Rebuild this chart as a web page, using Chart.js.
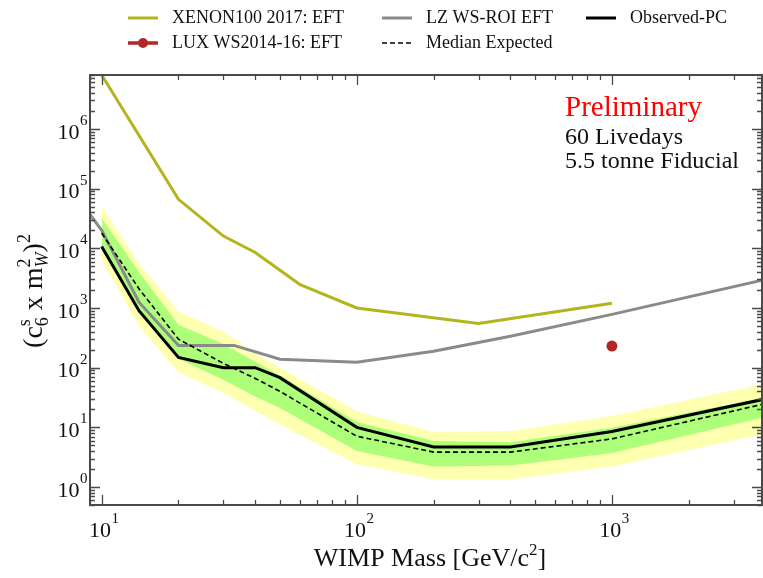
<!DOCTYPE html>
<html>
<head>
<meta charset="utf-8">
<script src="https://cdn.jsdelivr.net/npm/chart.js@4.4.0/dist/chart.umd.min.js"></script>
<style>
  html, body { margin: 0; padding: 0; background: #fff; }
  #limits { display: block; }
</style>
</head>
<body>
<canvas id="limits" width="763" height="578"></canvas>
<script>
// WIMP mass [GeV/c^2] and limits on (c6 x mW^2)^2

var massXenon = [10, 20, 30, 40, 50, 60, 100, 300, 1000];
var limXenon = [8.0e6, 6.6e4, 1.6e4, 8.5e3, 4.3e3, 2.45e3, 1.0e3, 550, 1200];

var massLZ = [9, 10, 14, 20, 33, 50, 100, 200, 400, 1000, 4000];
var limLZ = [3.7e4, 2.0e4, 1250, 236, 236, 138, 123, 188, 335, 780, 3000];

var massLux = [1000];
var limLux = [230];

var massPC = [10, 14, 20, 30, 40, 50, 100, 200, 400, 1000, 4000];
var observed = [1.07e4, 900, 148, 100, 100, 68, 10, 4.7, 4.7, 8.5, 30];
var median = [1.8e4, 2100, 300, 118, 66, 40, 7.1, 3.85, 3.85, 6.4, 25];
var sigma1Hi = [3.2e4, 4000, 525, 250, 126, 74, 12.3, 5.9, 5.6, 9.8, 32];
var sigma1Lo = [9500, 890, 141, 63, 33, 21, 4.0, 2.2, 2.3, 3.7, 15];
var sigma2Hi = [5.0e4, 5600, 870, 400, 174, 100, 18.6, 8.3, 8.7, 15.5, 54];
var sigma2Lo = [6300, 500, 83, 38, 19, 11.2, 2.4, 1.35, 1.35, 2.2, 7.9];

var xMin = 9, xMax = 3875;
var yMin = 0.5, yMax = 8e6;

var SERIF = '"Liberation Serif", "Times New Roman", serif';

function pts(xs, ys) {
  var out = [];
  for (var i = 0; i < xs.length; i++) out.push({x: xs[i], y: ys[i]});
  return out;
}

function line(label, xs, ys, color, width, dash) {
  return {
    label: label,
    data: pts(xs, ys),
    borderColor: color,
    backgroundColor: color,
    borderWidth: width,
    borderDash: dash || [],
    pointRadius: 0,
    fill: false,
    tension: 0
  };
}

function band(xs, ys, color, fillTo) {
  return {
    label: '',
    data: pts(xs, ys),
    borderColor: 'rgba(0,0,0,0)',
    borderWidth: 0,
    backgroundColor: color,
    pointRadius: 0,
    fill: fillTo,
    tension: 0
  };
}

var datasets = [
  line('Observed-PC', massPC, observed, '#000000', 3),
  line('Median Expected', massPC, median, '#000000', 1.6, [5, 3]),
  line('XENON100 2017: EFT', massXenon, limXenon, '#b4b41e', 3),
  line('LZ WS-ROI EFT', massLZ, limLZ, '#8a8a8a', 3),
  {
    label: 'LUX WS2014-16: EFT',
    data: pts(massLux, limLux),
    showLine: false,
    borderColor: '#b22727',
    backgroundColor: '#b22727',
    pointRadius: 5.5,
    pointBorderWidth: 0
  },
  band(massPC, sigma1Hi, '#adff7a', '+1'),
  band(massPC, sigma1Lo, '#adff7a', false),
  band(massPC, sigma2Hi, '#ffffb0', '+1'),
  band(massPC, sigma2Lo, '#ffffb0', false)
];

// legend slots: [row, column]
var legendSlots = {
  'XENON100 2017: EFT': [0, 0],
  'LZ WS-ROI EFT': [0, 1],
  'Observed-PC': [0, 2],
  'LUX WS2014-16: EFT': [1, 0],
  'Median Expected': [1, 1]
};
var legendCols = [128, 382, 586];
var legendRows = [18, 43];

function logTicks(min, max) {
  var out = [];
  for (var e = Math.floor(Math.log10(min)); e <= Math.ceil(Math.log10(max)); e++) {
    for (var s = 1; s <= 9; s++) {
      var v = s * Math.pow(10, e);
      if (v >= min * 0.999 && v <= max * 1.001) out.push({v: v, major: s === 1, e: e});
    }
  }
  return out;
}

// "10" with a raised exponent
function powerText(ctx, x, y, exp, align) {
  ctx.font = '22px ' + SERIF;
  var wb = ctx.measureText('10').width;
  ctx.font = '15px ' + SERIF;
  var we = ctx.measureText(String(exp)).width;
  var x0 = align === 'right' ? x - wb - we : x - (wb + we) / 2;
  ctx.textAlign = 'left';
  ctx.textBaseline = 'middle';
  ctx.font = '22px ' + SERIF;
  ctx.fillText('10', x0, y);
  ctx.font = '15px ' + SERIF;
  ctx.fillText(String(exp), x0 + wb + 0.5, y - 12);
}

// draws a list of [text, size, raise, italic, keepPos] pieces along a baseline
function pieces(ctx, list, x, y) {
  var cx = x, i;
  for (i = 0; i < list.length; i++) {
    var p = list[i];
    ctx.font = (p[3] ? 'italic ' : '') + p[1] + 'px ' + SERIF;
    ctx.fillText(p[0], cx, y - p[2]);
    if (!p[4]) cx += ctx.measureText(p[0]).width;
  }
  return cx - x;
}

var decor = {
  id: 'decor',
  afterDraw: function(chart) {
    var ctx = chart.ctx, a = chart.chartArea;
    var xs = chart.scales.x, ys = chart.scales.y;
    ctx.save();

    // frame
    ctx.strokeStyle = '#4a4a4a';
    ctx.lineWidth = 2;
    ctx.strokeRect(a.left, a.top, a.right - a.left, a.bottom - a.top);

    // inward ticks on all four sides
    ctx.lineWidth = 1.3;
    ctx.beginPath();
    logTicks(xMin, xMax).forEach(function(t) {
      var px = Math.round(xs.getPixelForValue(t.v)) + 0.5;
      var len = t.major ? 10 : 5;
      ctx.moveTo(px, a.bottom); ctx.lineTo(px, a.bottom - len);
      ctx.moveTo(px, a.top); ctx.lineTo(px, a.top + len);
    });
    logTicks(yMin, yMax).forEach(function(t) {
      var py = Math.round(ys.getPixelForValue(t.v)) + 0.5;
      var len = t.major ? 10 : 5;
      ctx.moveTo(a.left, py); ctx.lineTo(a.left + len, py);
      ctx.moveTo(a.right, py); ctx.lineTo(a.right - len, py);
    });
    ctx.stroke();

    // tick labels
    ctx.fillStyle = '#111';
    logTicks(xMin, xMax).forEach(function(t) {
      if (!t.major) return;
      powerText(ctx, xs.getPixelForValue(t.v) + 2, a.bottom + 26, t.e, 'center');
    });
    logTicks(yMin, yMax).forEach(function(t) {
      if (!t.major) return;
      powerText(ctx, 87, ys.getPixelForValue(t.v) + 4, t.e, 'right');
    });

    // x title
    ctx.textAlign = 'left';
    ctx.textBaseline = 'alphabetic';
    var xt = [['WIMP Mass [GeV/c', 26, 0], ['2', 17, 11], [']', 26, 0]];
    ctx.globalAlpha = 0;
    var w = pieces(ctx, xt, 0, -100);
    ctx.globalAlpha = 1;
    pieces(ctx, xt, 430 - w / 2, 566);

    // y title, rotated
    var yt = [['(c', 28, 0], ['s', 18, 12, false, true], ['6', 18, -6], [' x m', 28, 0],
              ['2', 18, 12, false, true], ['W', 18, -6, true], [')', 28, 0], ['2', 18, 12]];
    ctx.globalAlpha = 0;
    w = pieces(ctx, yt, 0, -100);
    ctx.globalAlpha = 1;
    ctx.save();
    ctx.translate(42, 291);
    ctx.rotate(-Math.PI / 2);
    pieces(ctx, yt, -w / 2, 0);
    ctx.restore();

    // run info
    ctx.fillStyle = '#ff0000';
    ctx.font = '29px ' + SERIF;
    ctx.fillText('Preliminary', 565, 116);
    ctx.fillStyle = '#111';
    ctx.font = '24px ' + SERIF;
    ctx.fillText('60 Livedays', 565, 144);
    ctx.fillText('5.5 tonne Fiducial', 565, 168);

    // legend
    ctx.font = '18px ' + SERIF;
    ctx.textBaseline = 'middle';
    chart.data.datasets.forEach(function(ds) {
      var slot = legendSlots[ds.label];
      if (!slot) return;
      var lx = legendCols[slot[1]], ly = legendRows[slot[0]];
      ctx.strokeStyle = ds.borderColor;
      ctx.lineWidth = ds.showLine === false ? 3.5 : Math.max(ds.borderWidth, 1.6);
      ctx.setLineDash(ds.borderDash || []);
      ctx.beginPath();
      ctx.moveTo(lx, ly); ctx.lineTo(lx + 30, ly);
      ctx.stroke();
      ctx.setLineDash([]);
      if (ds.showLine === false) {
        ctx.fillStyle = ds.backgroundColor;
        ctx.beginPath();
        ctx.arc(lx + 15, ly, 5, 0, Math.PI * 2);
        ctx.fill();
      }
      ctx.fillStyle = '#111';
      ctx.fillText(ds.label, lx + 44, ly);
    });

    ctx.restore();
  }
};

var chart = new Chart(document.getElementById('limits'), {
  type: 'line',
  data: { datasets: datasets },
  options: {
    responsive: false,
    animation: false,
    devicePixelRatio: 1,
    layout: { autoPadding: false, padding: { left: 90, top: 75, right: 1, bottom: 73 } },
    scales: {
      x: { type: 'logarithmic', min: xMin, max: xMax, display: false },
      y: { type: 'logarithmic', min: yMin, max: yMax, display: false }
    },
    plugins: {
      legend: { display: false },
      tooltip: { enabled: false },
      filler: { propagate: false }
    }
  },
  plugins: [decor]
});
</script>
</body>
</html>
